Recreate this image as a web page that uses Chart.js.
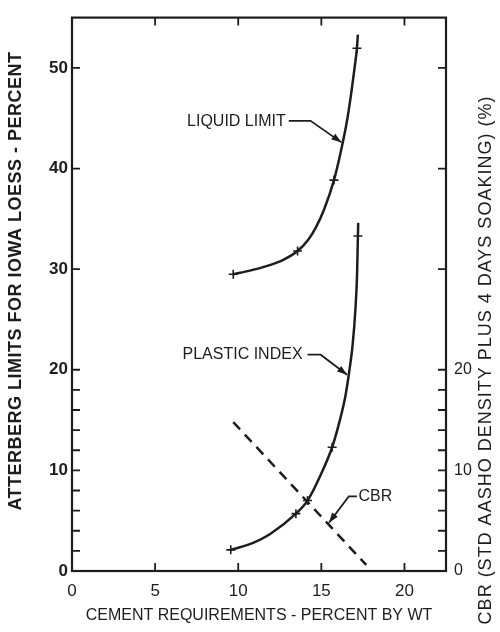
<!DOCTYPE html>
<html>
<head>
<meta charset="utf-8">
<script src="https://cdn.jsdelivr.net/npm/chart.js@4.4.1/dist/chart.umd.min.js"></script>
<style>
  html, body { margin: 0; padding: 0; background: #fff; }
  #c { display: block; }
</style>
</head>
<body>
<canvas id="c" width="500" height="632"></canvas>
<script>
// Liquid limit curve (x = % cement, y = percent)
const llX = [9.7, 10.7, 11.7, 12.68, 13.57, 14.2, 14.66, 15.16, 15.76, 16.2, 16.55, 16.8, 17.0, 17.14, 17.2];
const llY = [29.5, 29.85, 30.3, 30.9, 31.8, 32.9, 34.1, 35.9, 38.85, 41.9, 44.8, 47.5, 50.0, 51.95, 53.3];
const llMarkX = [9.7, 13.57, 15.76, 17.14];
const llMarkY = [29.5, 31.8, 38.85, 51.95];

// Plastic index curve
const piX = [9.55, 10.9, 11.9, 13.47, 14.17, 15.0, 15.65, 16.1, 16.45, 16.65, 16.89, 17.05, 17.15, 17.2, 17.22];
const piY = [2.1, 2.8, 3.65, 5.7, 7.0, 9.7, 12.3, 14.9, 17.4, 19.5, 22.6, 26.0, 29.5, 33.3, 34.6];
const piMarkX = [9.55, 13.47, 14.17, 15.65, 17.2];
const piMarkY = [2.1, 5.7, 7.0, 12.3, 33.3];

// CBR (right axis), dashed
const cbrX = [9.7, 17.7];
const cbrY = [14.8, 0.6];

const xTicks = [0, 5, 10, 15, 20];
const yTicks = [0, 2, 4, 6, 8, 10, 12, 14, 16, 18, 20, 30, 40, 50];

const ink = '#1d1d1d';
const fam = "'Liberation Sans', Arial, sans-serif";

// labels with leader arrows: text anchor, then leader path ending at arrow tip
const notes = [
    { text: 'LIQUID LIMIT', tx: 12.86, ty: 44.7, align: 'right', path: [[13.04, 44.74], [14.35, 44.74], [16.21, 42.6]] },
    { text: 'PLASTIC INDEX', tx: 13.87, ty: 21.5, align: 'right', path: [[14.17, 21.5], [14.96, 21.5], [16.55, 19.5]] },
    { text: 'CBR', tx: 17.24, ty: 7.42, align: 'left', path: [[17.14, 7.42], [16.65, 7.42], [15.46, 4.8]] }
];

const toPts = (xs, ys) => xs.map((v, i) => ({ x: v, y: ys[i] }));

function vText(ctx, text, cx, cy, font, spacing) {
    ctx.save();
    ctx.translate(cx, cy);
    ctx.rotate(-Math.PI / 2);
    ctx.font = font;
    ctx.letterSpacing = spacing;
    ctx.textAlign = 'center';
    ctx.textBaseline = 'middle';
    ctx.fillText(text, 0, 0);
    ctx.restore();
}

const decor = {
    id: 'decor',
    afterDraw(chart) {
        const { ctx, chartArea: a, scales } = chart;
        const x = scales.x, y = scales.y, y2 = scales.y2;
        ctx.save();
        ctx.strokeStyle = ink;
        ctx.fillStyle = ink;
        ctx.lineWidth = 2.2;
        ctx.strokeRect(a.left, a.top, a.right - a.left, a.bottom - a.top);

        // inward tick marks on all four sides
        ctx.lineWidth = 1.8;
        ctx.beginPath();
        x.ticks.forEach(t => {
            if (t.value <= x.min) return;
            const px = x.getPixelForValue(t.value);
            ctx.moveTo(px, a.bottom); ctx.lineTo(px, a.bottom - 8);
            ctx.moveTo(px, a.top); ctx.lineTo(px, a.top + 8);
        });
        y.ticks.forEach(t => {
            if (t.value <= y.min) return;
            const py = y.getPixelForValue(t.value);
            ctx.moveTo(a.left, py); ctx.lineTo(a.left + 8, py);
        });
        y2.ticks.forEach(t => {
            if (t.value <= y2.min) return;
            const py = y2.getPixelForValue(t.value);
            ctx.moveTo(a.right, py); ctx.lineTo(a.right - 8, py);
        });
        ctx.stroke();

        // annotations
        ctx.font = '16px ' + fam;
        ctx.textBaseline = 'middle';
        notes.forEach(n => {
            ctx.textAlign = n.align;
            ctx.fillText(n.text, x.getPixelForValue(n.tx), y.getPixelForValue(n.ty));
            const p = n.path.map(q => [x.getPixelForValue(q[0]), y.getPixelForValue(q[1])]);
            ctx.lineWidth = 1.8;
            ctx.beginPath();
            ctx.moveTo(p[0][0], p[0][1]);
            for (let i = 1; i < p.length; i++) ctx.lineTo(p[i][0], p[i][1]);
            ctx.stroke();
            const [bx, by] = p[p.length - 2], [tx, ty] = p[p.length - 1];
            const ang = Math.atan2(ty - by, tx - bx);
            ctx.beginPath();
            ctx.moveTo(tx, ty);
            ctx.lineTo(tx - 10 * Math.cos(ang) + 3.5 * Math.sin(ang), ty - 10 * Math.sin(ang) - 3.5 * Math.cos(ang));
            ctx.lineTo(tx - 10 * Math.cos(ang) - 3.5 * Math.sin(ang), ty - 10 * Math.sin(ang) + 3.5 * Math.cos(ang));
            ctx.closePath();
            ctx.fill();
        });

        // axis titles drawn here so they sit where the original has them
        vText(ctx, 'ATTERBERG LIMITS FOR IOWA LOESS - PERCENT', 16, 281, 'bold 18px ' + fam, '0.5px');
        vText(ctx, 'CBR (STD AASHO DENSITY PLUS 4 DAYS SOAKING) (%)', chart.width - 14, 360, '18px ' + fam, '1px');
        ctx.restore();
    }
};

new Chart(document.getElementById('c'), {
    type: 'scatter',
    data: {
        datasets: [
            {
                data: toPts(llX, llY), showLine: true, borderColor: ink, borderWidth: 2.5,
                pointRadius: 0, cubicInterpolationMode: 'monotone', yAxisID: 'y'
            },
            {
                data: toPts(llMarkX, llMarkY), pointStyle: 'cross', pointRadius: 4.5,
                borderColor: ink, borderWidth: 1.6, yAxisID: 'y'
            },
            {
                data: toPts(piX, piY), showLine: true, borderColor: ink, borderWidth: 2.5,
                pointRadius: 0, cubicInterpolationMode: 'monotone', yAxisID: 'y'
            },
            {
                data: toPts(piMarkX, piMarkY), pointStyle: 'cross', pointRadius: 4.5,
                borderColor: ink, borderWidth: 1.6, yAxisID: 'y'
            },
            {
                data: toPts(cbrX, cbrY), showLine: true, borderColor: ink, borderWidth: 2.5,
                borderDash: [10, 7], pointRadius: 0, yAxisID: 'y2'
            }
        ]
    },
    options: {
        responsive: false,
        animation: false,
        layout: { padding: { top: 10, left: 0, right: 0, bottom: 0 } },
        plugins: { legend: { display: false }, tooltip: { enabled: false } },
        scales: {
            x: {
                type: 'linear', position: 'bottom', min: 0, max: 22.5,
                afterBuildTicks: s => { s.ticks = xTicks.map(v => ({ value: v })); },
                afterFit: s => { s.height = 61; },
                grid: { display: false, drawTicks: false },
                border: { display: false },
                ticks: { padding: 10, color: ink, font: { family: fam, size: 17 }, maxRotation: 0 },
                title: {
                    display: true, text: 'CEMENT REQUIREMENTS - PERCENT BY WT', color: ink,
                    font: { family: fam, size: 16 }, padding: { top: 0, bottom: 7 }
                }
            },
            y: {
                type: 'linear', position: 'left', min: 0, max: 55,
                afterBuildTicks: s => { s.ticks = yTicks.map(v => ({ value: v })); },
                afterFit: s => { s.width = 72; },
                grid: { display: false, drawTicks: false },
                border: { display: false },
                ticks: {
                    padding: 4, color: ink, autoSkip: false, font: { family: fam, size: 17, weight: 'bold' },
                    callback: v => (v % 10 === 0 ? String(v) : '')
                }
            },
            y2: {
                type: 'linear', position: 'right', min: 0, max: 55,
                afterBuildTicks: s => { s.ticks = yTicks.map(v => ({ value: v })); },
                afterFit: s => { s.width = 54; },
                grid: { display: false, drawTicks: false },
                border: { display: false },
                ticks: {
                    padding: 8, color: ink, autoSkip: false, font: { family: fam, size: 16 },
                    callback: v => (v % 10 === 0 && v <= 20 ? String(v) : '')
                }
            }
        }
    },
    plugins: [decor]
});
</script>
</body>
</html>
